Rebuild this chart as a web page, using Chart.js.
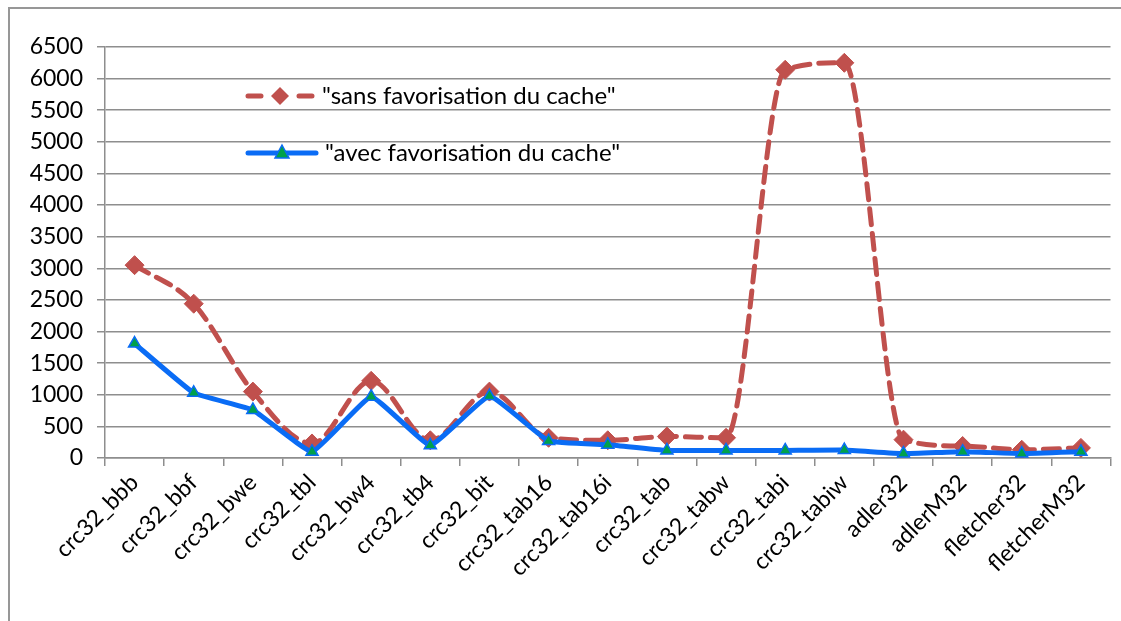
<!DOCTYPE html>
<html>
<head>
<meta charset="utf-8">
<script src="https://cdn.jsdelivr.net/npm/chart.js@4.4.1/dist/chart.umd.min.js"></script>
<style>
  html, body { margin: 0; padding: 0; background: #fff; }
  #wrap { position: relative; width: 1121px; height: 621px; }
  #frame { position: absolute; left: 8px; top: 7px; right: 0; bottom: 0;
           border-top: 2px solid #979797; border-left: 2px solid #979797; }
  canvas { position: absolute; left: 0; top: 0; }
</style>
</head>
<body>
<div id="wrap">
  <div id="frame"></div>
  <canvas id="chart" width="1121" height="621"></canvas>
</div>
<script>
var categories = ['crc32_bbb', 'crc32_bbf', 'crc32_bwe', 'crc32_tbl', 'crc32_bw4', 'crc32_tb4',
  'crc32_bit', 'crc32_tab16', 'crc32_tab16i', 'crc32_tab', 'crc32_tabw', 'crc32_tabi',
  'crc32_tabiw', 'adler32', 'adlerM32', 'fletcher32', 'fletcherM32'];
var sansCache = [3050, 2440, 1050, 230, 1220, 280, 1050, 320, 280, 340, 320, 6140, 6250, 290, 190, 130, 160];
var avecCache = [1810, 1030, 760, 100, 970, 200, 980, 270, 210, 120, 120, 120, 125, 70, 100, 70, 100];
var seriesNames = ['"sans favorisation du cache"', '"avec favorisation du cache"'];

var RED = '#C0504D';
var BLUE = '#0A6CF5';
var GREEN = '#00A14B';
var GRID = '#8E8E8E';
var FONT = 'Lato, "Open Sans", sans-serif';

// legend drawn inside the plot, like the original
var insideLegend = {
  id: 'insideLegend',
  afterDraw: function(chart) {
    var ctx = chart.ctx;
    ctx.save();
    ctx.font = '24px ' + FONT;
    ctx.fillStyle = '#000';
    ctx.textBaseline = 'middle';

    // red dashed sample with diamond
    var y1 = 96;
    ctx.strokeStyle = RED;
    ctx.lineWidth = 5;
    ctx.lineCap = 'round';
    ctx.beginPath();
    ctx.moveTo(248, y1); ctx.lineTo(261, y1);
    ctx.moveTo(299, y1); ctx.lineTo(312, y1);
    ctx.stroke();
    ctx.fillStyle = RED;
    ctx.beginPath();
    ctx.moveTo(280, y1 - 9); ctx.lineTo(289, y1); ctx.lineTo(280, y1 + 9); ctx.lineTo(271, y1);
    ctx.closePath();
    ctx.fill();
    ctx.fillStyle = '#000';
    ctx.fillText(seriesNames[0], 322, y1);

    // blue solid sample with triangle
    var y2 = 153;
    ctx.strokeStyle = BLUE;
    ctx.lineWidth = 5;
    ctx.beginPath();
    ctx.moveTo(248, y2); ctx.lineTo(316, y2);
    ctx.stroke();
    ctx.fillStyle = GREEN;
    ctx.strokeStyle = BLUE;
    ctx.lineWidth = 1.5;
    ctx.beginPath();
    ctx.moveTo(282, y2 - 8); ctx.lineTo(289, y2 + 5); ctx.lineTo(275, y2 + 5);
    ctx.closePath();
    ctx.fill(); ctx.stroke();
    ctx.fillStyle = '#000';
    ctx.fillText(seriesNames[1], 325, y2);
    ctx.restore();
  }
};

new Chart(document.getElementById('chart'), {
  type: 'line',
  data: {
    labels: categories,
    datasets: [{
      label: seriesNames[1],
      data: avecCache,
      borderColor: BLUE,
      borderWidth: 5,
      tension: 0.1,
      pointStyle: 'triangle',
      pointRadius: 7,
      pointBackgroundColor: GREEN,
      pointBorderColor: BLUE,
      pointBorderWidth: 1.5
    }, {
      label: seriesNames[0],
      data: sansCache,
      borderColor: RED,
      borderWidth: 5,
      borderDash: [16, 9],
      borderCapStyle: 'round',
      cubicInterpolationMode: 'monotone',
      pointStyle: 'rectRot',
      pointRadius: 9.5,
      pointBackgroundColor: RED,
      pointBorderColor: RED,
      pointBorderWidth: 1
    }]
  },
  options: {
    responsive: false,
    animation: false,
    layout: { padding: { top: 47, right: 4, left: 0, bottom: 0 } },
    plugins: {
      legend: { display: false },
      tooltip: { enabled: false }
    },
    scales: {
      x: {
        offset: true,
        grid: { offset: true, drawOnChartArea: false, drawTicks: true, tickLength: 8, color: GRID, lineWidth: 1.5 },
        border: { color: GRID, width: 1.5 },
        ticks: { color: '#000', font: { family: FONT, size: 23 }, minRotation: 45, maxRotation: 45, padding: 3, autoSkip: false },
        afterFit: function(scale) { scale.height = 163; }
      },
      y: {
        min: 0,
        max: 6500,
        ticks: {
          stepSize: 500, color: '#000', font: { family: FONT, size: 23 }, padding: 14,
          callback: function(v) { return String(v); }
        },
        grid: { color: GRID, lineWidth: 1.5, tickLength: 8 },
        border: { color: GRID, width: 1.5 },
        afterFit: function(scale) { scale.width = 105; }
      }
    }
  },
  plugins: [insideLegend]
});
</script>
</body>
</html>
